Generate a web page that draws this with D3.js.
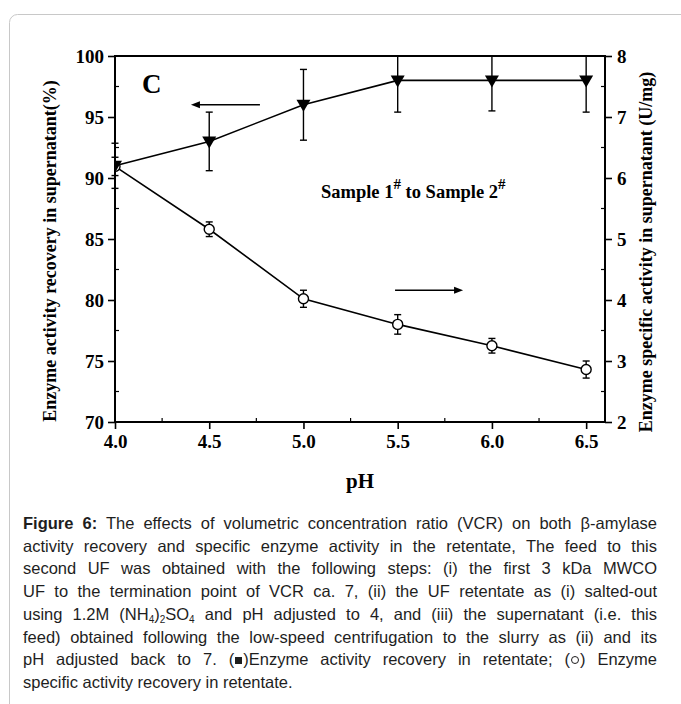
<!DOCTYPE html>
<html>
<head>
<meta charset="utf-8">
<script src="https://cdn.jsdelivr.net/npm/d3@7"></script>
<style>
  body { margin: 0; background: #fff; }
  #container { position: relative; width: 681px; height: 704px; overflow: hidden; }
  #container svg { position: absolute; left: 0; top: 0; }
  .caption { position: absolute; left: 23px; top: 512px; width: 634px;
             font-family: "Liberation Sans", Arial, sans-serif; font-size: 16.5px;
             line-height: 22.7px; color: #1e1e1e; }
  .caption div { text-align: justify; text-align-last: justify; white-space: nowrap; }
  .caption div.last { text-align-last: left; }
  .caption sub { font-size: 10px; vertical-align: -3px; line-height: 0; }
  .caption .sq { display: inline-block; width: 7px; height: 7px; background: #1e1e1e; margin: 0 1px 1px 1px; }
  .caption .ci { display: inline-block; width: 6px; height: 6px; border: 1px solid #1e1e1e; border-radius: 50%; margin: 0 1px 1px 1px; }
</style>
</head>
<body>
<div id="container"></div>
<script>
// chart data
const pH = [4.0, 4.5, 5.0, 5.5, 6.0, 6.5];
const recovery = [91.0, 93.0, 96.0, 98.0, 98.0, 98.0];      // left axis, %
const recoveryErr = [1.85, 2.4, 2.9, 2.6, 2.5, 2.6];
const specific = [6.19, 5.16, 4.02, 3.60, 3.25, 2.86];      // right axis, U/mg
const specificErr = [0.15, 0.12, 0.14, 0.16, 0.12, 0.14];

const xTicks = [4.0, 4.5, 5.0, 5.5, 6.0, 6.5];
const xMinor = [4.25, 4.75, 5.25, 5.75, 6.25];
const leftTicks = [70, 75, 80, 85, 90, 95, 100];
const leftMinor = [72.5, 77.5, 82.5, 87.5, 92.5, 97.5];
const rightTicks = [2, 3, 4, 5, 6, 7, 8];
const rightMinor = [2.5, 3.5, 4.5, 5.5, 6.5, 7.5];

const captionLines = [
    "<b>Figure 6:</b> The effects of volumetric concentration ratio (VCR) on both β-amylase",
    "activity recovery and specific enzyme activity in the retentate, The feed to this",
    "second UF was obtained with the following steps: (i) the first 3 kDa MWCO",
    "UF to the termination point of VCR ca. 7, (ii) the UF retentate as (i) salted-out",
    "using 1.2M (NH<sub>4</sub>)<sub>2</sub>SO<sub>4</sub> and pH adjusted to 4, and (iii) the supernatant (i.e. this",
    "feed) obtained following the low-speed centrifugation to the slurry as (ii) and its",
    "pH adjusted back to 7. (<span class='sq'></span>)Enzyme activity recovery in retentate; (<span class='ci'></span>) Enzyme",
    "specific activity recovery in retentate."
];

const width = 681;
const height = 704;
const plot = { left: 115, right: 605, top: 56, bottom: 422 };
const serif = "'Liberation Serif', 'Times New Roman', serif";

const svg = d3.select('#container')
    .append('svg')
    .attr('width', width)
    .attr('height', height);

// page frame (runs off right and bottom)
svg.append('rect')
    .attr('x', 9.5).attr('y', 14.5)
    .attr('width', 720).attr('height', 740)
    .attr('rx', 8)
    .attr('fill', 'none')
    .attr('stroke', '#c8c8c8')
    .attr('stroke-width', 1);

const x = d3.scaleLinear().domain([4, 6.6]).range([plot.left, plot.right]);
const yL = d3.scaleLinear().domain([70, 100]).range([plot.bottom, plot.top]);
const yR = d3.scaleLinear().domain([2, 8]).range([plot.bottom, plot.top]);

// axes
const bottomAxis = svg.append('g')
    .attr('transform', `translate(0,${plot.bottom})`)
    .call(d3.axisBottom(x).tickValues(xTicks).tickFormat(d3.format('.1f')).tickSize(7).tickSizeOuter(0).tickPadding(4));
const leftAxis = svg.append('g')
    .attr('transform', `translate(${plot.left},0)`)
    .call(d3.axisLeft(yL).tickValues(leftTicks).tickFormat(d3.format('d')).tickSize(7).tickSizeOuter(0).tickPadding(4));
const rightAxis = svg.append('g')
    .attr('transform', `translate(${plot.right},0)`)
    .call(d3.axisRight(yR).tickValues(rightTicks).tickFormat(d3.format('d')).tickSize(7).tickSizeOuter(0).tickPadding(5));

[bottomAxis, leftAxis, rightAxis].forEach(g => {
    g.select('.domain').remove();
    g.selectAll('.tick line').attr('stroke', '#000').attr('stroke-width', 1.6);
    g.selectAll('.tick text')
        .attr('fill', '#000')
        .style('font-family', serif)
        .style('font-weight', 'bold')
        .style('font-size', '19px');
});
bottomAxis.selectAll('.tick text').attr('dy', '0.78em');

// minor ticks pointing inward
svg.append('g').selectAll('line').data(xMinor).join('line')
    .attr('x1', d => x(d)).attr('x2', d => x(d))
    .attr('y1', plot.bottom).attr('y2', plot.bottom - 4)
    .attr('stroke', '#000').attr('stroke-width', 1.2);
svg.append('g').selectAll('line').data(leftMinor).join('line')
    .attr('x1', plot.left).attr('x2', plot.left + 4)
    .attr('y1', d => yL(d)).attr('y2', d => yL(d))
    .attr('stroke', '#000').attr('stroke-width', 1.2);
svg.append('g').selectAll('line').data(rightMinor).join('line')
    .attr('x1', plot.right).attr('x2', plot.right - 4)
    .attr('y1', d => yR(d)).attr('y2', d => yR(d))
    .attr('stroke', '#000').attr('stroke-width', 1.2);

// frame
svg.append('rect')
    .attr('x', plot.left).attr('y', plot.top)
    .attr('width', plot.right - plot.left).attr('height', plot.bottom - plot.top)
    .attr('fill', 'none').attr('stroke', '#000').attr('stroke-width', 2);

// axis titles
svg.append('text')
    .attr('transform', `translate(56,${(plot.top + plot.bottom) / 2 + 12}) rotate(-90)`)
    .attr('text-anchor', 'middle')
    .style('font-family', serif).style('font-weight', 'bold').style('font-size', '18px')
    .text('Enzyme activity recovery in supernatant(%)');
svg.append('text')
    .attr('transform', `translate(652,${(plot.top + plot.bottom) / 2 + 13}) rotate(-90)`)
    .attr('text-anchor', 'middle')
    .style('font-family', serif).style('font-weight', 'bold').style('font-size', '18px')
    .text('Enzyme specific activity in supernatant (U/mg)');
svg.append('text')
    .attr('x', (plot.left + plot.right) / 2).attr('y', 488)
    .attr('text-anchor', 'middle')
    .style('font-family', serif).style('font-weight', 'bold').style('font-size', '21px')
    .text('pH');

// clip for error bars that run past the top, and markers cut by the left axis
svg.append('clipPath').attr('id', 'clipV')
    .append('rect').attr('x', 0).attr('y', plot.top).attr('width', width).attr('height', plot.bottom - plot.top);
svg.append('clipPath').attr('id', 'clipPlot')
    .append('rect').attr('x', plot.left).attr('y', plot.top).attr('width', plot.right - plot.left).attr('height', plot.bottom - plot.top);

const recData = pH.map((p, i) => ({ x: p, y: recovery[i], e: recoveryErr[i] }));
const speData = pH.map((p, i) => ({ x: p, y: specific[i], e: specificErr[i] }));

function drawSeries(data, yScale) {
    svg.append('path')
        .datum(data)
        .attr('fill', 'none')
        .attr('stroke', '#000')
        .attr('stroke-width', 1.6)
        .attr('d', d3.line().x(d => x(d.x)).y(d => yScale(d.y)));

    const err = svg.append('g').attr('clip-path', 'url(#clipV)')
        .selectAll('g').data(data).join('g')
        .attr('stroke', '#000').attr('stroke-width', 1.4);
    err.append('line')
        .attr('x1', d => x(d.x)).attr('x2', d => x(d.x))
        .attr('y1', d => yScale(d.y - d.e)).attr('y2', d => yScale(d.y + d.e));
    err.append('line')
        .attr('x1', d => x(d.x) - 3.5).attr('x2', d => x(d.x) + 3.5)
        .attr('y1', d => yScale(d.y - d.e)).attr('y2', d => yScale(d.y - d.e));
    err.append('line')
        .attr('x1', d => x(d.x) - 3.5).attr('x2', d => x(d.x) + 3.5)
        .attr('y1', d => yScale(d.y + d.e)).attr('y2', d => yScale(d.y + d.e));
}

drawSeries(speData, yR);
drawSeries(recData, yL);

// open circles
svg.append('g').attr('clip-path', 'url(#clipPlot)')
    .selectAll('circle').data(speData).join('circle')
    .attr('cx', d => x(d.x)).attr('cy', d => yR(d.y))
    .attr('r', 5)
    .attr('fill', '#fff').attr('stroke', '#000').attr('stroke-width', 1.4);

// filled down-triangles
svg.append('g').attr('clip-path', 'url(#clipPlot)')
    .selectAll('path').data(recData).join('path')
    .attr('transform', d => `translate(${x(d.x)},${yL(d.y)})`)
    .attr('d', 'M-7,-5L7,-5L0,7Z')
    .attr('fill', '#000');

// annotations
svg.append('text')
    .attr('x', x(4.143)).attr('y', yL(97.0))
    .style('font-family', serif).style('font-weight', 'bold').style('font-size', '27px')
    .text('C');

const sample = svg.append('text')
    .attr('x', x(5.093)).attr('y', yL(88.4))
    .style('font-family', serif).style('font-weight', 'bold').style('font-size', '18.5px');
sample.append('tspan').text('Sample 1');
sample.append('tspan').attr('dy', -9).style('font-size', '15px').text('#');
sample.append('tspan').attr('dy', 9).text(' to Sample 2');
sample.append('tspan').attr('dy', -9).style('font-size', '15px').text('#');

function arrow(x1, x2, yv) {
    const dir = Math.sign(x2 - x1);
    svg.append('line')
        .attr('x1', x1).attr('x2', x2 - dir * 6)
        .attr('y1', yv).attr('y2', yv)
        .attr('stroke', '#000').attr('stroke-width', 1.6);
    svg.append('path')
        .attr('d', `M${x2},${yv}L${x2 - dir * 9},${yv - 3.5}L${x2 - dir * 9},${yv + 3.5}Z`)
        .attr('fill', '#000');
}
arrow(x(4.769), x(4.403), yL(96.0));
arrow(x(5.486), x(5.847), yR(4.16));

// caption
const cap = d3.select('#container').append('div').attr('class', 'caption');
cap.selectAll('div').data(captionLines).join('div')
    .attr('class', (d, i) => i === captionLines.length - 1 ? 'last' : null)
    .html(d => d);
</script>
</body>
</html>
